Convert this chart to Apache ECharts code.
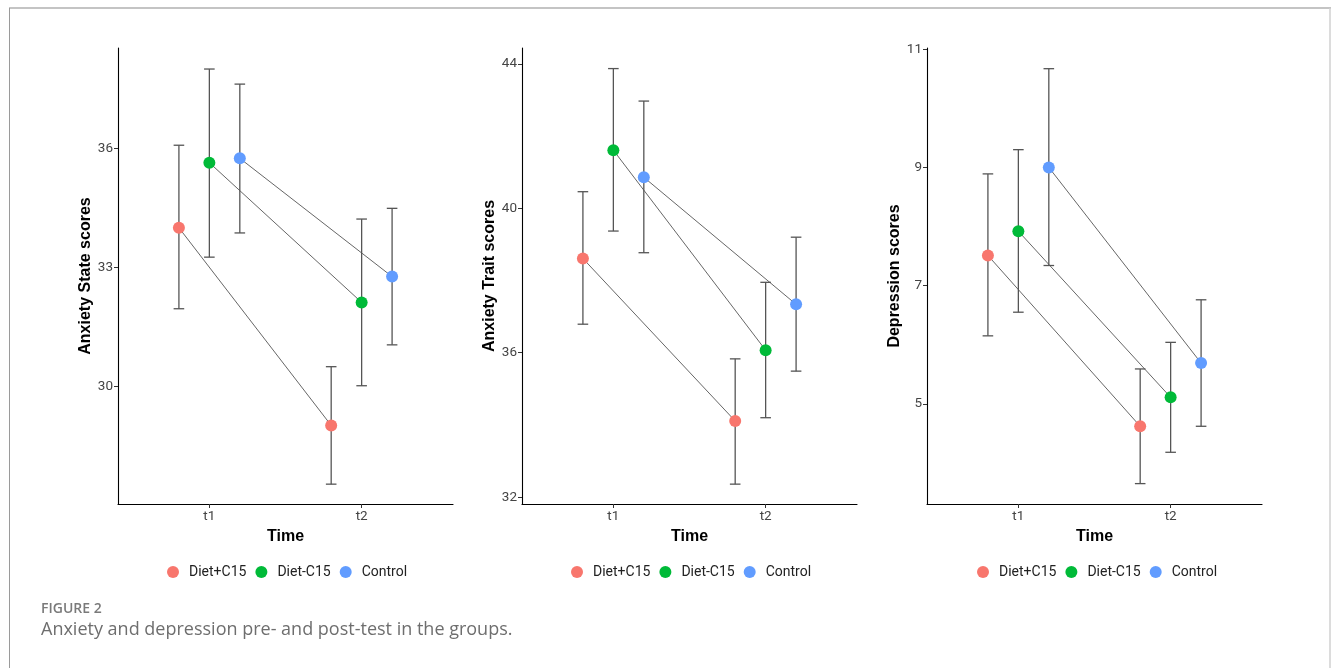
<!DOCTYPE html>
<html>
<head>
<meta charset="utf-8">
<script src="https://cdn.jsdelivr.net/npm/echarts@6/dist/echarts.min.js"></script>
<style>
html,body{margin:0;padding:0;background:#fff;}
#chart{width:1331px;height:668px;}
</style>
</head>
<body>
<div id="chart"></div>
<script>
// ---- data ----
const timeLabels = ['t1', 't2'];
const groupNames = ['Diet+C15', 'Diet-C15', 'Control'];
const groupColors = ['#F8766D', '#00BA38', '#619CFF'];
const dodge = [-0.2, 0, 0.2];

const panelTitles = ['Anxiety State scores', 'Anxiety Trait scores', 'Depression scores'];

// Anxiety State: [t1, t2] per group
const stateMean = [[34.00, 29.02], [35.64, 32.12], [35.75, 32.77]];
const stateLow  = [[31.96, 27.54], [33.26, 30.02], [33.87, 31.05]];
const stateHigh = [[36.08, 30.50], [38.00, 34.22], [37.62, 34.49]];

// Anxiety Trait
const traitMean = [[38.61, 34.11], [41.61, 36.07], [40.86, 37.34]];
const traitLow  = [[36.79, 32.36], [39.37, 34.20], [38.77, 35.49]];
const traitHigh = [[40.46, 35.83], [43.87, 37.95], [42.97, 39.20]];

// Depression
const depMean = [[7.51, 4.62], [7.92, 5.11], [9.00, 5.69]];
const depLow  = [[6.15, 3.65], [6.55, 4.18], [7.34, 4.62]];
const depHigh = [[8.89, 5.59], [9.30, 6.04], [10.67, 6.76]];

// y tick labels
const stateTicks = [30, 33, 36];
const traitTicks = [32, 36, 40, 44];
const depTicks = [5, 7, 9, 11];

const yRanges = [[27.04, 38.53], [31.81, 44.44], [3.305, 11.02]];

// ---- build ----
const panels = [
  {mean: stateMean, low: stateLow, high: stateHigh, ticks: stateTicks},
  {mean: traitMean, low: traitLow, high: traitHigh, ticks: traitTicks},
  {mean: depMean, low: depLow, high: depHigh, ticks: depTicks}
];
const gridLefts = [118, 522, 927];
const gridWidth = 335;
const legendLefts = [167, 571, 977];

const grids = [], xAxes = [], yAxes = [], series = [], legends = [];
const tickFont = {fontFamily: 'Roboto', fontSize: 13.5, color: '#444'};
const axisLineStyle = {color: '#000', width: 1.1};

panels.forEach((p, pi) => {
  grids.push({left: gridLefts[pi], top: 48, width: gridWidth, height: 456});
  xAxes.push({
    gridIndex: pi, type: 'value', min: 0.4, max: 2.6,
    name: 'Time', nameLocation: 'middle', nameGap: 21,
    nameTextStyle: {fontFamily: 'Liberation Sans', fontWeight: 'bold', fontSize: 16, color: '#000'},
    axisLine: {show: true, lineStyle: axisLineStyle},
    axisTick: {show: true, length: 4, customValues: [1, 2], lineStyle: {color: '#333'}},
    axisLabel: Object.assign({customValues: [1, 2], margin: 6,
      formatter: v => timeLabels[Math.round(v) - 1]}, tickFont),
    splitLine: {show: false}
  });
  yAxes.push({
    gridIndex: pi, type: 'value', min: yRanges[pi][0], max: yRanges[pi][1],
    name: panelTitles[pi], nameLocation: 'middle', nameGap: 24, nameRotate: 90,
    nameTextStyle: {fontFamily: 'Liberation Sans', fontWeight: 'bold', fontSize: 16, color: '#000'},
    axisLine: {show: true, lineStyle: axisLineStyle},
    axisTick: {show: true, length: 4, customValues: p.ticks, lineStyle: {color: '#333'}},
    axisLabel: Object.assign({customValues: p.ticks, margin: 5,
      formatter: v => String(Math.round(v))}, tickFont),
    splitLine: {show: false}
  });
  legends.push({
    data: groupNames.map(n => ({name: n})),
    left: legendLefts[pi], top: 565, padding: 0,
    itemWidth: 12, itemHeight: 12, itemGap: 9, icon: 'circle',
    selectedMode: false,
    textStyle: {fontFamily: 'Roboto', fontSize: 14, color: '#222', padding: [0, 0, 0, 5]}
  });
  groupNames.forEach((g, gi) => {
    const xs = timeLabels.map((t, ti) => ti + 1 + dodge[gi]);
    // error bars
    series.push({
      type: 'custom', name: g, xAxisIndex: pi, yAxisIndex: pi, z: 1,
      data: xs.map((x, ti) => [x, p.low[gi][ti], p.high[gi][ti]]),
      renderItem: (params, api) => {
        const lo = api.coord([api.value(0), api.value(1)]);
        const hi = api.coord([api.value(0), api.value(2)]);
        const w = 5.3;
        const st = {stroke: '#555', lineWidth: 1.3};
        return {type: 'group', children: [
          {type: 'line', shape: {x1: lo[0], y1: lo[1], x2: hi[0], y2: hi[1]}, style: st},
          {type: 'line', shape: {x1: lo[0] - w, y1: lo[1], x2: lo[0] + w, y2: lo[1]}, style: st},
          {type: 'line', shape: {x1: hi[0] - w, y1: hi[1], x2: hi[0] + w, y2: hi[1]}, style: st}
        ]};
      },
      itemStyle: {color: groupColors[gi]},
      silent: true
    });
    // connecting line with points
    series.push({
      type: 'line', name: g, xAxisIndex: pi, yAxisIndex: pi, z: 3,
      data: xs.map((x, ti) => [x, p.mean[gi][ti]]),
      symbol: 'circle', symbolSize: 12,
      itemStyle: {color: groupColors[gi], opacity: 1},
      lineStyle: {color: '#555', width: 0.9},
      animation: false
    });
  });
});

const chart = echarts.init(document.getElementById('chart'), null, {renderer: 'canvas'});
chart.setOption({
  animation: false,
  backgroundColor: '#fff',
  grid: grids, xAxis: xAxes, yAxis: yAxes, legend: legends, series: series,
  graphic: [
    {type: 'line', shape: {x1: 9, y1: 8, x2: 1331, y2: 8}, style: {stroke: '#c4c4c4', lineWidth: 2}},
    {type: 'line', shape: {x1: 9.5, y1: 8, x2: 9.5, y2: 668}, style: {stroke: '#9a9a9a', lineWidth: 1}},
    {type: 'line', shape: {x1: 1330, y1: 8, x2: 1330, y2: 668}, style: {stroke: '#d0d0d0', lineWidth: 1.5}},
    {type: 'text', left: 41, top: 602, style: {text: 'FIGURE 2', fontFamily: 'Open Sans', fontWeight: 600, fontSize: 14, fill: '#7a7a7a'}},
    {type: 'text', left: 41, top: 621, style: {text: 'Anxiety and depression pre- and post-test in the groups.', fontFamily: 'Open Sans', fontSize: 18, fill: '#6e6e6e'}}
  ]
});
</script>
</body>
</html>
